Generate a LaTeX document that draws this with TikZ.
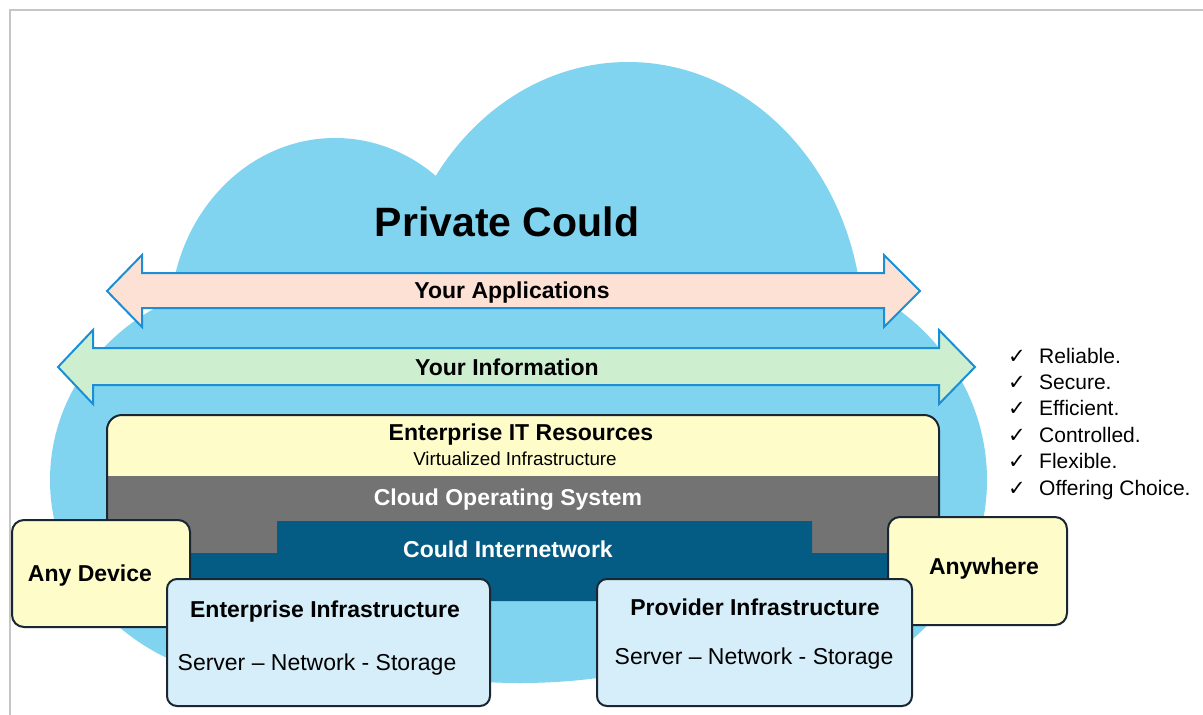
\documentclass[tikz,border=0pt]{standalone}
\usepackage{fontspec}
\setmainfont{Liberation Sans}
\newfontfamily\symfont{DejaVu Sans}
\definecolor{cloudblue}{HTML}{80D4F0}
\definecolor{arrowline}{HTML}{1B8FD6}
\definecolor{apppink}{HTML}{FDE1D4}
\definecolor{infogreen}{HTML}{CDEFD0}
\definecolor{resyellow}{HTML}{FEFCC9}
\definecolor{osgray}{HTML}{737373}
\definecolor{netblue}{HTML}{045C84}
\definecolor{infrablue}{HTML}{D5EEF9}
\definecolor{edgedark}{HTML}{1A2733}
\definecolor{framegray}{HTML}{C6C6C6}
\tikzset{
  bigtitle/.style={font=\fontsize{41}{46}\selectfont\bfseries, inner sep=0pt, anchor=base},
  boldlbl/.style={font=\fontsize{23}{27}\selectfont\bfseries, inner sep=0pt, anchor=base},
  plainlbl/.style={font=\fontsize{23}{27}\selectfont, inner sep=0pt, anchor=base},
  smalllbl/.style={font=\fontsize{18.8}{22}\selectfont, inner sep=0pt, anchor=base},
  checklbl/.style={font=\fontsize{21}{25}\selectfont, inner sep=0pt, anchor=base west},
  checkmk/.style={font=\symfont\fontsize{21}{25}\selectfont, inner sep=0pt, anchor=base west},
  bandarrow/.style={draw=arrowline, line width=2pt, line join=miter},
  devbox/.style={draw=edgedark, line width=2pt, fill=resyellow, rounded corners=12pt, inner sep=0pt},
  infrabox/.style={draw=edgedark, line width=2pt, fill=infrablue, rounded corners=10pt, inner sep=0pt},
}
\begin{document}
\begin{tikzpicture}[x=1pt,y=-1pt]
\useasboundingbox (0,0) rectangle (1203,715);
\fill[white] (0,0) rectangle (1203,715);
% frame lines
\draw[framegray, line width=2pt] (10,715) -- (10,10) -- (1203,10);

% cloud built from overlapping lobes
\begin{scope}[cloudblue]
  \fill (628,330) ellipse [x radius=235, y radius=268];
  \fill (335,320) ellipse [x radius=165, y radius=182];
  \fill (265,480) ellipse [x radius=215, y radius=200];
  \fill (760,480) ellipse [x radius=227, y radius=215];
  \fill (520,515) ellipse [x radius=320, y radius=168];
  \fill (200,300) rectangle (880,600);
\end{scope}
\node[bigtitle] (title) at (507,236) {Private Could};

% two-headed band arrows
\path[bandarrow, fill=apppink] (107,291) -- (142,255) -- (142,273) -- (884,273) -- (884,255)
  -- (920,291) -- (884,327) -- (884,308) -- (142,308) -- (142,327) -- cycle;
\node[boldlbl] (apps) at (512,298) {Your Applications};
\path[bandarrow, fill=infogreen] (58,367) -- (93,330) -- (93,348) -- (939,348) -- (939,330)
  -- (975,367) -- (939,404) -- (939,385) -- (93,385) -- (93,404) -- cycle;
\node[boldlbl] (info) at (507,375) {Your Information};

% resources / operating system block
\begin{scope}
  \clip[rounded corners=15pt] (107,560) -- (107,415) -- (939,415) -- (939,560) -- cycle;
  \fill[resyellow] (100,410) rectangle (945,476);
  \fill[osgray] (100,476) rectangle (945,560);
\end{scope}
\draw[edgedark, line width=2pt, rounded corners=15pt] (107,553) -- (107,415) -- (939,415) -- (939,553);
\node[boldlbl] (res) at (521,440) {Enterprise IT Resources};
\node[smalllbl] (virt) at (515,465) {Virtualized Infrastructure};
\node[boldlbl, text=white] (os) at (508,505) {Cloud Operating System};

% internetwork band
\fill[netblue] (277,521) -- (812,521) -- (812,553) -- (895,553) -- (895,601)
  -- (180,601) -- (180,553) -- (277,553) -- cycle;
\node[boldlbl, text=white] (net) at (508,557) {Could Internetwork};

% access boxes
\node[devbox, minimum width=178pt, minimum height=107pt] (anydev) at (101,573.5) {};
\node[boldlbl] (anydevtxt) at (90,581) {Any Device};
\node[devbox, minimum width=179pt, minimum height=108pt] (anywhere) at (977.5,571) {};
\node[boldlbl] (anywheretxt) at (984,574) {Anywhere};

% infrastructure boxes
\node[infrabox, minimum width=323pt, minimum height=127pt] (entinfra) at (328.5,642.5) {};
\node[boldlbl] (entt) at (325,617) {Enterprise Infrastructure};
\node[plainlbl] (ents) at (317,670) {Server -- Network - Storage};
\node[infrabox, minimum width=315pt, minimum height=127pt] (provinfra) at (754.5,642.5) {};
\node[boldlbl] (provt) at (755,615) {Provider Infrastructure};
\node[plainlbl] (provs) at (754,664) {Server -- Network - Storage};

% benefits list
\foreach \y/\t [count=\i] in {363/Reliable., 389/Secure., 415/Efficient., 442/Controlled., 468/Flexible., 495/Offering Choice.} {
  \node[checkmk] (mk\i) at (1008,\y) {✓};
  \node[checklbl] (it\i) at (1039,\y) {\t};
}
\end{tikzpicture}
\end{document}
